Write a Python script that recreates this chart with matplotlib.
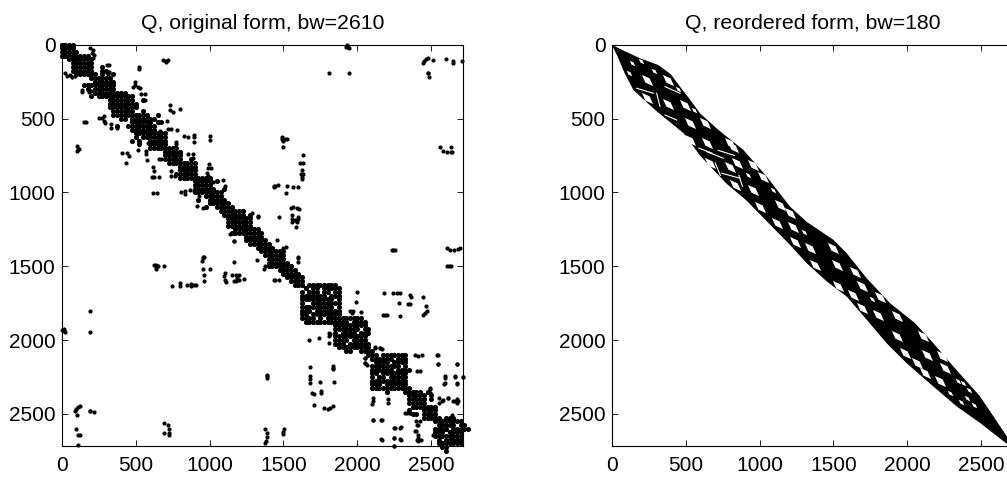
import matplotlib
matplotlib.use("Agg")
import matplotlib.pyplot as plt
import numpy as np

plt.rcParams['font.family'] = ['Liberation Sans', 'DejaVu Sans']

n = 2717
ticks = [0, 500, 1000, 1500, 2000, 2500]

# nonzeros near the diagonal, one string per 25 rows, first char sits on the diagonal
cell = 25
band_rows = [
    "####", "###", "###", "#####", "#####", "####", "###..#", "##..##", "##.#..#",
    "#####", "#####", "####", "###", "#####", "######", "#####..#", "#####", "####",
    "##..#", "#####..#", "######", "####.##", "####", "###", "#####", "####", "###",
    "##", "####", "####", "###", "##..#", "#####", "####", "###", "##", "#####",
    "####.#", "###", "###..#", "####", "###", "###", "###", "###", "#####", "####.#",
    "#####", "####", "###", "####", "####", "###", "###", "###", "###", "#####",
    "####", "###", "###", "###", "###", "###", "###", "##",
    "#.########", "#.##.#####", "###.##.##", "####.###", "#####.#", "######", "###.#",
    "####", "###",
    "########", "###.####", "#######", "####.##", "##.###", "####", "###", "###",
    "##", "##",
    "##.#######", "#####.###", "###.####", "#####.#", "##.####", "#####", "####",
    "###", "##", "##",
    "####.#", "####.#", "###.#", "##", "####", "###", "##",
    "##.###", "#######", "####.##", "#.#####", "####", "###", "##", "#",
]

# scattered nonzeros above the diagonal (the matrix is symmetric)
off_col = [1925, 1940, 1932, 1945, 1806, 1946, 2447, 2451, 2465, 2480, 2510, 2600, 2645, 2645, 2709,
           2480, 2480, 2487, 1493, 1493, 1522, 1500, 1500, 1508, 1631, 1612, 1635, 1626, 1619, 1635,
           1626, 1626, 1443, 1465, 1436, 1522, 1562, 1597, 1517, 1549, 1567, 1590, 1608, 1556, 1597,
           1556, 1578, 1600, 1556, 1590, 1585, 1285, 1328, 1470, 1459, 1518, 1500, 1596, 2234, 2244,
           2255, 2605, 2627, 2654, 2683, 2695, 2620, 2605, 2637, 2560, 2578, 2605, 2632, 2632, 2641,
           706, 688, 722, 706, 523, 523, 192, 214, 203, 221, 214, 304, 322, 304, 322, 316, 496, 496,
           485, 519, 530, 534, 564, 564, 733, 733, 751, 800, 710, 722, 737, 778, 668, 828, 857, 897,
           897, 897, 1003, 1003, 773, 773, 857, 891, 891, 999, 992, 1008, 981, 992, 1026, 1094, 1105,
           1330, 958, 1596, 1596, 2180, 2244, 2266, 2289, 2356, 2363, 2442, 2462, 2284, 2345, 2356,
           2469, 2458, 2447, 2188, 2176, 2199, 2287, 2000, 1989, 1951, 1974, 1962, 2023, 2544, 2544,
           2672, 2390, 2413, 2435, 2401, 2424, 2593, 2661, 2717, 2593, 2672, 2492, 2492, 2616, 2578,
           2661, 2683, 2104, 2165, 2255, 2295, 2250, 2295, 2165, 2250, 2395, 2424, 2413, 2395, 2413,
           2401, 2429, 2510, 2356, 2334, 2120, 2153, 2052, 2052, 2063]
off_row = [15, 15, 5, 20, 189, 189, 126, 108, 95, 92, 104, 99, 108, 122, 108,
           189, 194, 221, 622, 638, 638, 650, 695, 638, 746, 798, 798, 848, 875, 875,
           893, 906, 956, 952, 965, 956, 961, 961, 1001, 1107, 1096, 1107, 1114, 1152, 1164,
           1177, 1188, 1177, 1200, 1200, 1236, 1137, 1166, 1166, 1321, 1371, 1377, 1441, 1389, 1389,
           1389, 1377, 1389, 1389, 1384, 1377, 1497, 1501, 1497, 695, 717, 724, 695, 724, 724,
           108, 104, 104, 119, 149, 167, 25, 36, 59, 70, 92, 137, 137, 183, 183, 200, 250, 273,
           289, 289, 296, 334, 334, 374, 408, 442, 453, 437, 514, 573, 573, 577, 586, 618, 622, 611,
           627, 656, 615, 645, 656, 672, 739, 739, 764, 807, 836, 836, 870, 892, 927, 915, 955,
           1163, 1439, 1439, 1468, 1682, 1682, 1682, 1682, 1693, 1705, 1705, 1772, 1750, 1757, 1757,
           1802, 1817, 1833, 1833, 1833, 1833, 1840, 1675, 1743, 1806, 1806, 1817, 1811, 2104, 2160,
           2162, 2104, 2106, 2100, 2208, 2208, 2246, 2246, 2247, 2291, 2291, 2325, 2359, 2393, 2404,
           2410, 2410, 2539, 2543, 2595, 2588, 2663, 2675, 2675, 2715, 2550, 2550, 2573, 2613, 2645,
           2675, 2675, 2640, 2494, 2494, 2050, 2054, 2122, 2156, 2167]

# reordered form: outline of the band
upper_col = [0, 80, 192, 316, 400, 462, 530, 598, 722, 891, 1049, 1206, 1320, 1500, 1590, 1725, 1883, 2052, 2176, 2311, 2492, 2672, 2717]
upper_row = [0, 40, 92, 138, 200, 284, 372, 465, 577, 713, 893, 1096, 1200, 1321, 1412, 1581, 1750, 1885, 2021, 2178, 2381, 2650, 2717]
lower_col = [2717, 2672, 2492, 2334, 2176, 1996, 1860, 1725, 1590, 1455, 1319, 1206, 1093, 912, 778, 597, 485, 296, 147, 88, 40, 0]
lower_row = [2717, 2701, 2561, 2449, 2314, 2157, 2021, 1862, 1705, 1603, 1479, 1355, 1240, 1055, 942, 750, 598, 444, 307, 194, 80, 0]

# gaps inside the band
hole_col = [237, 237, 383, 383, 496, 530, 631, 643, 530, 823, 665, 846, 958, 834, 958, 1026,
            1003, 1139, 1116, 1206, 1229, 1342, 1500, 1376, 1522, 1533, 1691, 1646, 1635, 1691, 1815, 1804,
            1928, 1928, 1984, 2131, 2108, 2063, 2120, 2232, 2255, 2221, 800, 800, 1240]
hole_row = [239, 363, 239, 401, 408, 532, 532, 667, 645, 690, 803, 803, 814, 949, 983, 893,
            1096, 1085, 1209, 1141, 1231, 1378, 1378, 1491, 1491, 1637, 1637, 1536, 1694, 1784, 1705, 1829,
            1836, 1975, 2088, 2099, 1975, 2156, 2224, 2111, 2190, 2280, 667, 825, 1333]
small_col = [120, 135, 196, 1093, 285, 450, 560, 920, 1300, 1760, 2379, 2289, 2402, 2340, 2420, 2450, 2360]
small_row = [189, 126, 108, 983, 180, 300, 440, 880, 1270, 1720, 2291, 2359, 2392, 2280, 2340, 2440, 2420]
sliver_col = [(169, 282), (304, 327), (361, 462), (361, 440), (643, 755), (744, 868), (590, 680), (720, 830), (700, 735), (860, 885)]
sliver_row = [(295, 329), (329, 419), (284, 329), (476, 510), (724, 769), (870, 904), (700, 735), (715, 750), (800, 885), (885, 960)]

fig = plt.figure(figsize=(10.07, 4.79), dpi=100)
ax1 = fig.add_axes([61.7 / 1007, 33 / 479, 401.6 / 1007, 401.3 / 479])
ax2 = fig.add_axes([611.7 / 1007, 33 / 479, 401.6 / 1007, 401.3 / 479])

band_c = []
band_r = []
for i, pattern in enumerate(band_rows):
    for j, ch in enumerate(pattern):
        if ch == "#":
            band_c.append((i + j) * cell)
            band_r.append(i * cell)
band_c = np.array(band_c)
band_r = np.array(band_r)
ax1.plot(band_c, band_r, "o", color="k", ms=3.7, mew=0, clip_on=False)
ax1.plot(band_r, band_c, "o", color="k", ms=3.7, mew=0, clip_on=False)
ax1.plot(off_col, off_row, "o", color="k", ms=3, mew=0, clip_on=False)
ax1.plot(off_row, off_col, "o", color="k", ms=3, mew=0, clip_on=False)
ax1.set_title("Q, original form, bw=2610", fontsize=15.3, pad=11)

ax2.fill(upper_col + lower_col, upper_row + lower_row, color="k", lw=0)
diamond = [(-1, 1), (0.38, 0.38), (1, -1), (-0.38, -0.38)]
ax2.scatter(hole_col, hole_row, s=65, marker=diamond, color="w", linewidths=0, zorder=3)
ax2.scatter(small_col, small_row, s=16, marker=diamond, color="w", linewidths=0, zorder=3)
for c, r in zip(sliver_col, sliver_row):
    ax2.plot(c, r, color="w", lw=0.8, zorder=3)
ax2.set_title("Q, reordered form, bw=180", fontsize=15.3, pad=11)

for ax in [ax1, ax2]:
    ax.set_xlim(0, n)
    ax.set_ylim(n, 0)
    ax.set_xticks(ticks)
    ax.set_yticks(ticks)
    ax.tick_params(direction="in", top=True, right=True, length=4, width=0.6, labelsize=15)
    ax.tick_params(axis="x", pad=7)
    ax.tick_params(axis="y", pad=4.5)
    for s in ax.spines.values():
        s.set_linewidth(0.8)

fig.savefig("out.png", dpi=100)
